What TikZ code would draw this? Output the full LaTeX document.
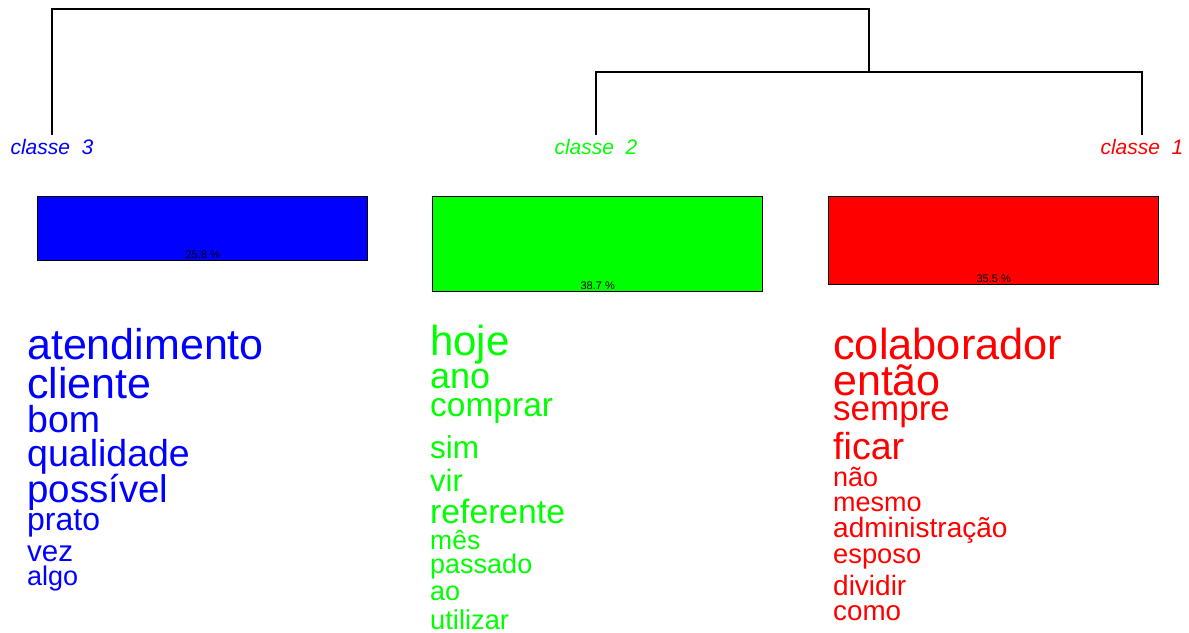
\documentclass[tikz,border=0pt]{standalone}
\usepackage{fontspec}
\setmainfont{Liberation Sans}
\usepackage{tikz}
\usepackage{xcolor}
\usetikzlibrary{positioning}

\newcommand{\fsz}[1]{\fontsize{#1}{#1}\selectfont}

\tikzset{
    tree/.style={line width=1.4pt},
    classbox/.style={draw, line width=1.4pt, minimum width=330pt, anchor=north west, inner sep=0pt},
    classlbl/.style={anchor=base, inner sep=0pt, font=\fsz{21}\itshape},
    pct/.style={anchor=base, inner sep=0pt, yshift=2.5pt, font=\fsz{11}},
    word/.style={anchor=base west, inner sep=0pt, yshift=-2pt},
}

\begin{document}
\begin{tikzpicture}[x=1pt, y=-1pt]
    \useasboundingbox (0, 0) rectangle (1189, 632);

    % dendrogram
    \path (52, 154) node [classlbl, blue] (c3) {classe\ \ 3};
    \path (596, 154) node [classlbl, green] (c2) {classe\ \ 2};
    \path (1142, 154) node [classlbl, red] (c1) {classe\ \ 1};
    \coordinate (t3) at ([yshift=4pt]c3.north);
    \coordinate (t2) at ([yshift=4pt]c2.north);
    \coordinate (t1) at ([yshift=4pt]c1.north);
    \coordinate (m21) at (869, 72);
    \coordinate (root) at (460, 9);
    \draw [tree] (t2) |- (m21) -| (t1);
    \draw [tree] (t3) |- (root) -| (m21);

    % class sizes
    \path (37, 196) node [classbox, fill=blue, minimum height=64pt] (b3) {};
    \path (432, 196) node [classbox, fill=green, minimum height=95pt] (b2) {};
    \path (828, 196) node [classbox, fill=red, minimum height=88pt] (b1) {};
    \path (b3.south) node [pct] (p3) {25.8 \%};
    \path (b2.south) node [pct] (p2) {38.7 \%};
    \path (b1.south) node [pct] (p1) {35.5 \%};

    % classe 3
    \path (27, 357) node [word, blue, font=\fsz{43}] (w31) {atendimento};
    \path (27, 396) node [word, blue, font=\fsz{43}] (w32) {cliente};
    \path (27, 430) node [word, blue, font=\fsz{37.5}] (w33) {bom};
    \path (27, 464) node [word, blue, font=\fsz{37.5}] (w34) {qualidade};
    \path (27, 500) node [word, blue, font=\fsz{38.5}] (w35) {possível};
    \path (27, 528) node [word, blue, font=\fsz{32}] (w36) {prato};
    \path (27, 559) node [word, blue, font=\fsz{29.5}] (w37) {vez};
    \path (27, 583) node [word, blue, font=\fsz{27}] (w38) {algo};

    % classe 2
    \path (430, 353) node [word, green, font=\fsz{42}] (w21) {hoje};
    \path (430, 386) node [word, green, font=\fsz{36}] (w22) {ano};
    \path (430, 414) node [word, green, font=\fsz{33.5}] (w23) {comprar};
    \path (430, 456) node [word, green, font=\fsz{31.5}] (w24) {sim};
    \path (430, 489) node [word, green, font=\fsz{31}] (w25) {vir};
    \path (430, 521) node [word, green, font=\fsz{33.7}] (w26) {referente};
    \path (430, 547) node [word, green, font=\fsz{26.5}] (w27) {mês};
    \path (430, 571) node [word, green, font=\fsz{27}] (w28) {passado};
    \path (430, 598) node [word, green, font=\fsz{27}] (w29) {ao};
    \path (430, 627) node [word, green, font=\fsz{27.3}] (w210) {utilizar};

    % classe 1
    \path (833, 357) node [word, red, font=\fsz{43.4}] (w11) {colaborador};
    \path (833, 393) node [word, red, font=\fsz{43}] (w12) {então};
    \path (833, 418) node [word, red, font=\fsz{35}] (w13) {sempre};
    \path (833, 457) node [word, red, font=\fsz{37.6}] (w14) {ficar};
    \path (833, 484) node [word, red, font=\fsz{27}] (w15) {não};
    \path (833, 509) node [word, red, font=\fsz{27}] (w16) {mesmo};
    \path (833, 535) node [word, red, font=\fsz{28}] (w17) {administração};
    \path (833, 561) node [word, red, font=\fsz{27.3}] (w18) {esposo};
    \path (833, 593) node [word, red, font=\fsz{28}] (w19) {dividir};
    \path (833, 618) node [word, red, font=\fsz{27.8}] (w110) {como};
\end{tikzpicture}
\end{document}
